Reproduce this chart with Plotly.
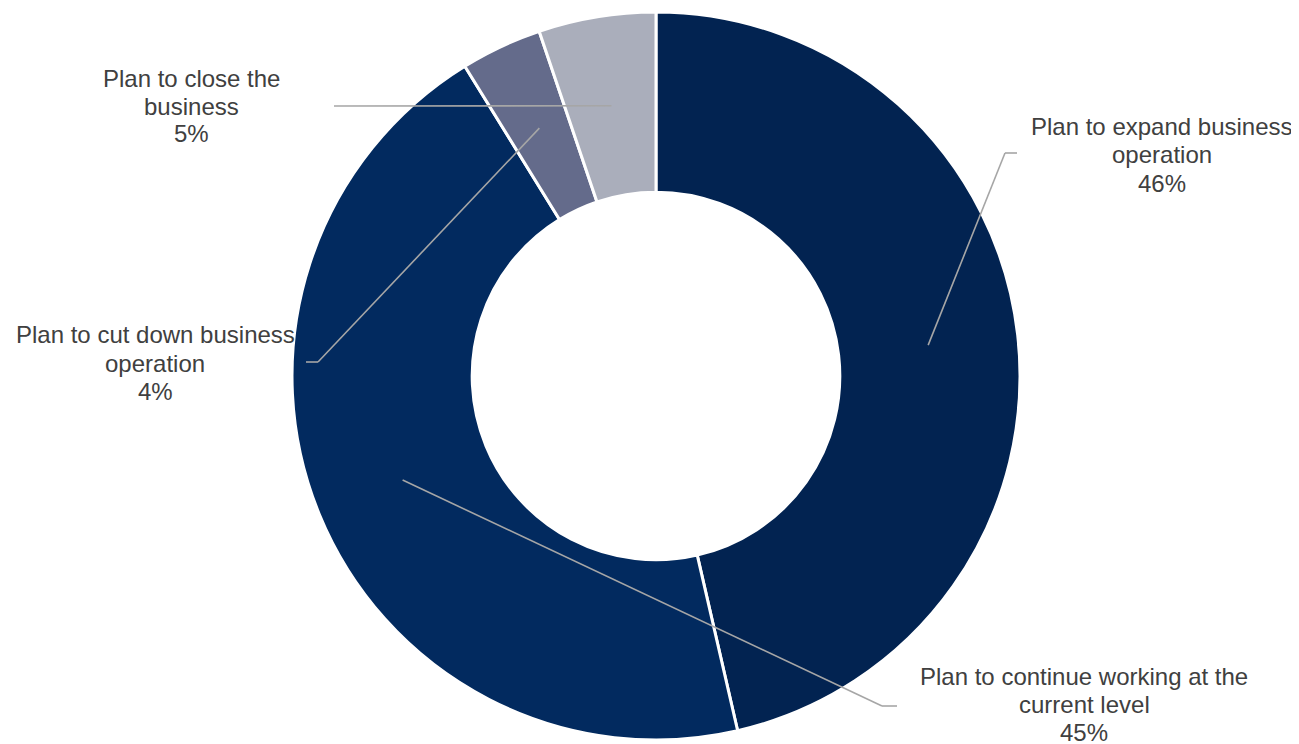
import math
import plotly.graph_objects as go

# ---- data ----
categories = [
    "Plan to expand business operation",
    "Plan to continue working at the current level",
    "Plan to cut down business operation",
    "Plan to close the business",
]
label_lines = [
    ["Plan to expand business", "operation"],
    ["Plan to continue working at the", "current level"],
    ["Plan to cut down business", "operation"],
    ["Plan to close the", "business"],
]
shares = [46.4, 44.8, 3.6, 5.2]

# ---- style ----
colors = ["#022351", "#022a5f", "#646b8b", "#aaaebb"]
W, H = 1299, 744
OFF = 8                              # page body margin compensation
CX, CY, R = 656 - OFF, 376 - OFF, 364  # donut centre / radius in pixels
HOLE = 0.505
FONT = dict(family="Liberation Sans, Arial, sans-serif", size=24, color="#404040")
LINE_H = 28
LEADER = dict(color="#a6a6a6", width=1.6)
# label placement (reference pixels): (text centre x, text centre y, elbow x, elbow y, stub end x)
label_place = [
    (1162, 155, 1005, 153, 1017),
    (1084, 704, 882, 706, 897),
    (155, 363, 318, 362, 306),
    (191, 106, 334, 106, 334),
]

def px(x, y):
    return x / W, 1 - y / H

fig = go.Figure(go.Pie(
    labels=categories,
    values=shares,
    hole=HOLE,
    sort=False,
    direction="clockwise",
    rotation=0,
    textinfo="none",
    hoverinfo="label+percent",
    marker=dict(colors=colors, line=dict(color="white", width=3)),
    domain=dict(x=[(CX - R) / W, (CX + R) / W], y=[1 - (CY + R) / H, 1 - (CY - R) / H]),
    showlegend=False,
))

total = sum(shares)
shapes = []
annotations = []
cum = 0.0
r_mid = R * (1 + HOLE) / 2
for i, v in enumerate(shares):
    mid = (cum + v / 2) / total * 2 * math.pi
    cum += v
    ax = CX + r_mid * math.sin(mid)
    ay = CY - r_mid * math.cos(mid)
    tx, ty, ex, ey, sx = [c - OFF for c in label_place[i]]
    x0, y0 = px(ax, ay)
    x1, y1 = px(ex, ey)
    x2, _ = px(sx, ey)
    shapes.append(dict(type="line", xref="paper", yref="paper", x0=x0, y0=y0, x1=x1, y1=y1, line=LEADER))
    if sx != ex:
        shapes.append(dict(type="line", xref="paper", yref="paper", x0=x1, y0=y1, x1=x2, y1=y1, line=LEADER))
    lines = label_lines[i] + [f"{round(v / total * 100)}%"]
    n = len(lines)
    for k, t in enumerate(lines):
        yy = ty + (k - (n - 1) / 2) * LINE_H
        xp, yp = px(tx, yy)
        annotations.append(dict(xref="paper", yref="paper", x=xp, y=yp, text=t, showarrow=False,
                                xanchor="center", yanchor="middle", font=FONT))

fig.update_layout(
    width=W, height=H,
    margin=dict(l=0, r=0, t=0, b=0),
    paper_bgcolor="white", plot_bgcolor="white",
    shapes=shapes, annotations=annotations,
)
fig.write_html("out.html")
